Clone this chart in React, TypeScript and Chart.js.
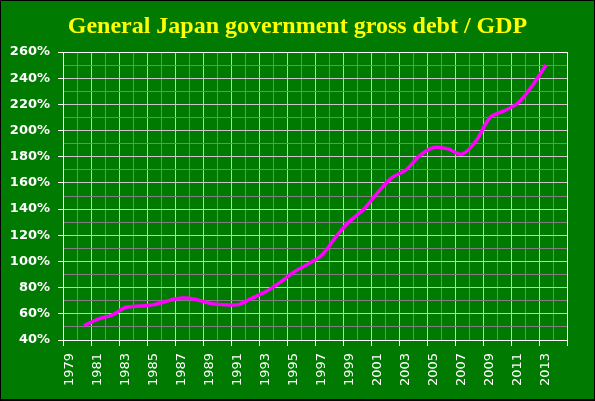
import React, { useEffect, useRef } from 'react';
import { Chart, registerables } from 'chart.js';

Chart.register(...registerables);

const years: string[] = [
  '1979', '1980', '1981', '1982', '1983', '1984', '1985', '1986', '1987',
  '1988', '1989', '1990', '1991', '1992', '1993', '1994', '1995', '1996',
  '1997', '1998', '1999', '2000', '2001', '2002', '2003', '2004', '2005',
  '2006', '2007', '2008', '2009', '2010', '2011', '2012', '2013', '2014',
];

const debtToGdp: (number | null)[] = [
  null, 51, 56, 59, 65, 66, 67, 70, 72,
  71, 68, 67, 67, 72, 77, 84, 92, 98,
  105, 119, 131, 140, 153, 164, 170, 181, 187,
  186, 182, 192, 210, 215, 221, 234, 250, null,
];

const yMin = 40;
const yMax = 260;
const yStep = 10;
const yLabelStep = 20;

const titleText = 'General Japan government gross debt / GDP';

const GREEN = '#007a00';
const LIGHT = '#c8c8c8';
const DARK = '#808080';

const bgPlugin = {
  id: 'bgFill',
  beforeDraw(chart: any) {
    const { ctx, width, height } = chart;
    ctx.save();
    ctx.fillStyle = GREEN;
    ctx.fillRect(0, 0, width, height);
    ctx.restore();
  },
};

// Title centred on the whole canvas (Chart.js' title box would be offset by the right padding)
const titlePlugin = {
  id: 'centredTitle',
  afterDraw(chart: any) {
    const { ctx, width } = chart;
    ctx.save();
    ctx.fillStyle = '#ffff00';
    ctx.font = "bold 24px 'Liberation Serif', 'Times New Roman', serif";
    ctx.textAlign = 'center';
    ctx.textBaseline = 'alphabetic';
    ctx.fillText(titleText, width / 2, 32);
    ctx.restore();
  },
};

export default function App() {
  const ref = useRef<HTMLCanvasElement | null>(null);

  useEffect(() => {
    if (!ref.current) return;
    const chart = new Chart(ref.current, {
      type: 'line',
      data: {
        labels: years,
        datasets: [
          {
            label: 'Gross debt / GDP',
            data: debtToGdp,
            borderColor: '#ff00ff',
            backgroundColor: '#ff00ff',
            borderWidth: 3.5,
            pointRadius: 0,
            tension: 0.3,
            spanGaps: false,
          },
        ],
      },
      options: {
        responsive: false,
        animation: false,
        devicePixelRatio: 1,
        layout: { padding: { top: 51, right: 27, bottom: 0, left: 0 } },
        plugins: {
          legend: { display: false },
          tooltip: { enabled: false },
          title: { display: false },
        },
        scales: {
          x: {
            type: 'category',
            offset: true,
            grid: {
              offset: true,
              drawTicks: true,
              tickLength: 6,
              lineWidth: 1,
              color: (ctx: any) => {
                if (ctx.type !== 'tick') return '#ffffff';
                return ctx.index % 2 === 0 ? LIGHT : DARK;
              },
              tickColor: (ctx: any) => {
                if (ctx.type !== 'tick') return '#ffffff';
                return ctx.index % 2 === 0 ? '#ffffff' : 'rgba(0,0,0,0)';
              },
            },
            border: { display: true, color: '#ffffff', width: 1 },
            ticks: {
              autoSkip: false,
              maxRotation: 90,
              minRotation: 90,
              padding: 7,
              color: '#ffffff',
              font: { family: "'DejaVu Sans', Verdana, sans-serif", size: 13 },
              callback: (_v: any, index: number) => (index % 2 === 0 ? years[index] : ''),
            },
            afterFit: (scale: any) => {
              scale.height = 59;
            },
          },
          y: {
            type: 'linear',
            min: yMin,
            max: yMax,
            grid: {
              tickLength: 5,
              lineWidth: 1,
              color: (ctx: any) => {
                const v = ctx.tick ? ctx.tick.value : 0;
                if (v === yMax) return '#ffffff';
                return v % yLabelStep === 0 ? LIGHT : DARK;
              },
              tickColor: (ctx: any) => {
                const v = ctx.tick ? ctx.tick.value : 0;
                return v % yLabelStep === 0 ? '#ffffff' : 'rgba(0,0,0,0)';
              },
            },
            border: { display: true, color: '#ffffff', width: 1 },
            ticks: {
              stepSize: yStep,
              autoSkip: false,
              padding: 8,
              color: '#ffffff',
              font: { family: "'DejaVu Sans', Verdana, sans-serif", size: 13, weight: 'bold' },
              callback: (v: any) => (Number(v) % yLabelStep === 0 ? `${v}%` : ''),
            },
            afterFit: (scale: any) => {
              scale.width = 62;
            },
          },
        },
      },
      plugins: [bgPlugin, titlePlugin],
    });
    return () => chart.destroy();
  }, []);

  return (
    <div style={{ position: 'absolute', left: 0, top: 0, width: 595, height: 401, background: '#000' }}>
      <canvas
        ref={ref}
        width={593}
        height={398}
        style={{ position: 'absolute', left: 1, top: 1, width: 593, height: 398 }}
      />
    </div>
  );
}
